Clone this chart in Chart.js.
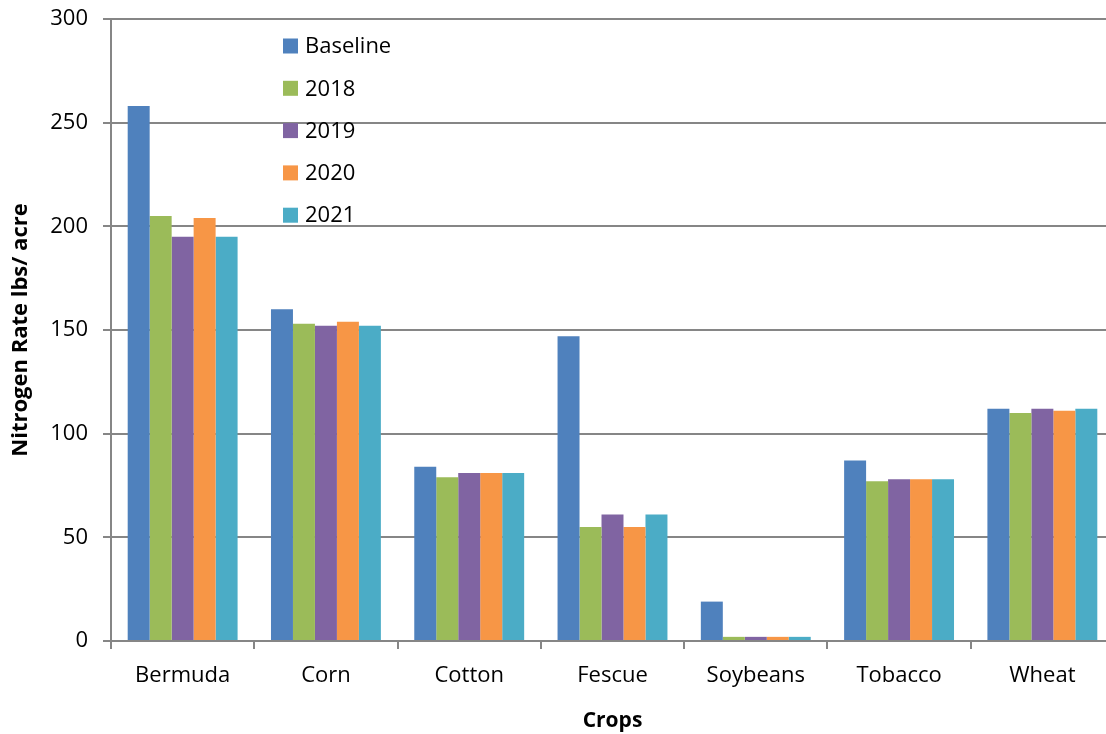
<!DOCTYPE html>
<html><head><meta charset="utf-8">
<script src="https://cdn.jsdelivr.net/npm/chart.js@4.4.0/dist/chart.umd.min.js"></script>
<style>html,body{margin:0;padding:0;overflow:hidden;background:#fff}#wrap{width:1114px;height:734px}</style>
</head><body><div id="wrap"><canvas id="c" width="1114" height="734"></canvas></div>
<script>
const categories = ["Bermuda","Corn","Cotton","Fescue","Soybeans","Tobacco","Wheat"];
const seriesNames = ["Baseline","2018","2019","2020","2021"];
const baseline = [258,160,84,147,19,87,112];
const y2018 = [205,153,79,55,2,77,110];
const y2019 = [195,152,81,61,2,78,112];
const y2020 = [204,154,81,55,2,78,111];
const y2021 = [195,152,81,61,2,78,112];
const colors = ["#4F81BD","#9BBB59","#8064A2","#F79646","#4BACC6"];
const yTicks = [0,50,100,150,200,250,300];

const FONT = "'Open Sans', Lato, sans-serif";
const legendPlugin = {
  id:'insideLegend',
  afterDatasetsDraw(chart){
    const ctx = chart.ctx;
    ctx.save();
    ctx.font = "22px " + FONT;
    ctx.textBaseline = 'middle';
    chart.data.datasets.forEach((ds,i)=>{
      const y = 46 + i*42.3;
      ctx.fillStyle = ds.backgroundColor;
      ctx.fillRect(283, y-7.5, 15, 15);
      ctx.fillStyle = '#000';
      ctx.fillText(ds.label, 305, y+1);
    });
    ctx.restore();
  }
};
const data = [baseline,y2018,y2019,y2020,y2021];
new Chart(document.getElementById('c'), {
  type:'bar',
  data:{labels:categories, datasets: seriesNames.map((n,i)=>({label:n,data:data[i],backgroundColor:colors[i],categoryPercentage:0.767,barPercentage:1.0}))},
  options:{
    responsive:false, animation:false,
    layout:{padding:{top:19,right:0,left:0,bottom:0}},
    plugins:{legend:{display:false},tooltip:{enabled:false}},
    scales:{
      x:{
        grid:{display:true,drawOnChartArea:false,drawTicks:true,tickLength:8,color:'#868686',lineWidth:2,offset:true},
        border:{display:true,color:'#868686',width:2},
        ticks:{font:{family:FONT,size:22},color:'#000',padding:14},
        title:{display:true,text:'Crops',font:{family:FONT,size:21,weight:'bold'},color:'#000',padding:{top:4,bottom:0}},
        afterFit(s){s.height=93;s.paddingLeft=0;s.paddingRight=0;}
      },
      y:{
        min:0,max:300,
        afterBuildTicks(s){s.ticks=yTicks.map(v=>({value:v}));},
        grid:{color:'#868686',lineWidth:2,tickLength:8,drawTicks:true},
        border:{display:true,color:'#868686',width:2},
        ticks:{font:{family:FONT,size:22},color:'#000',padding:15},
        title:{display:true,text:'Nitrogen Rate lbs/ acre',font:{family:FONT,size:22,weight:'bold'},color:'#000',padding:{top:8,bottom:2}},
        afterFit(s){s.width=111;s.paddingTop=0;s.paddingBottom=0;}
      }
    }
  },
  plugins:[legendPlugin]
});
</script></body></html>
